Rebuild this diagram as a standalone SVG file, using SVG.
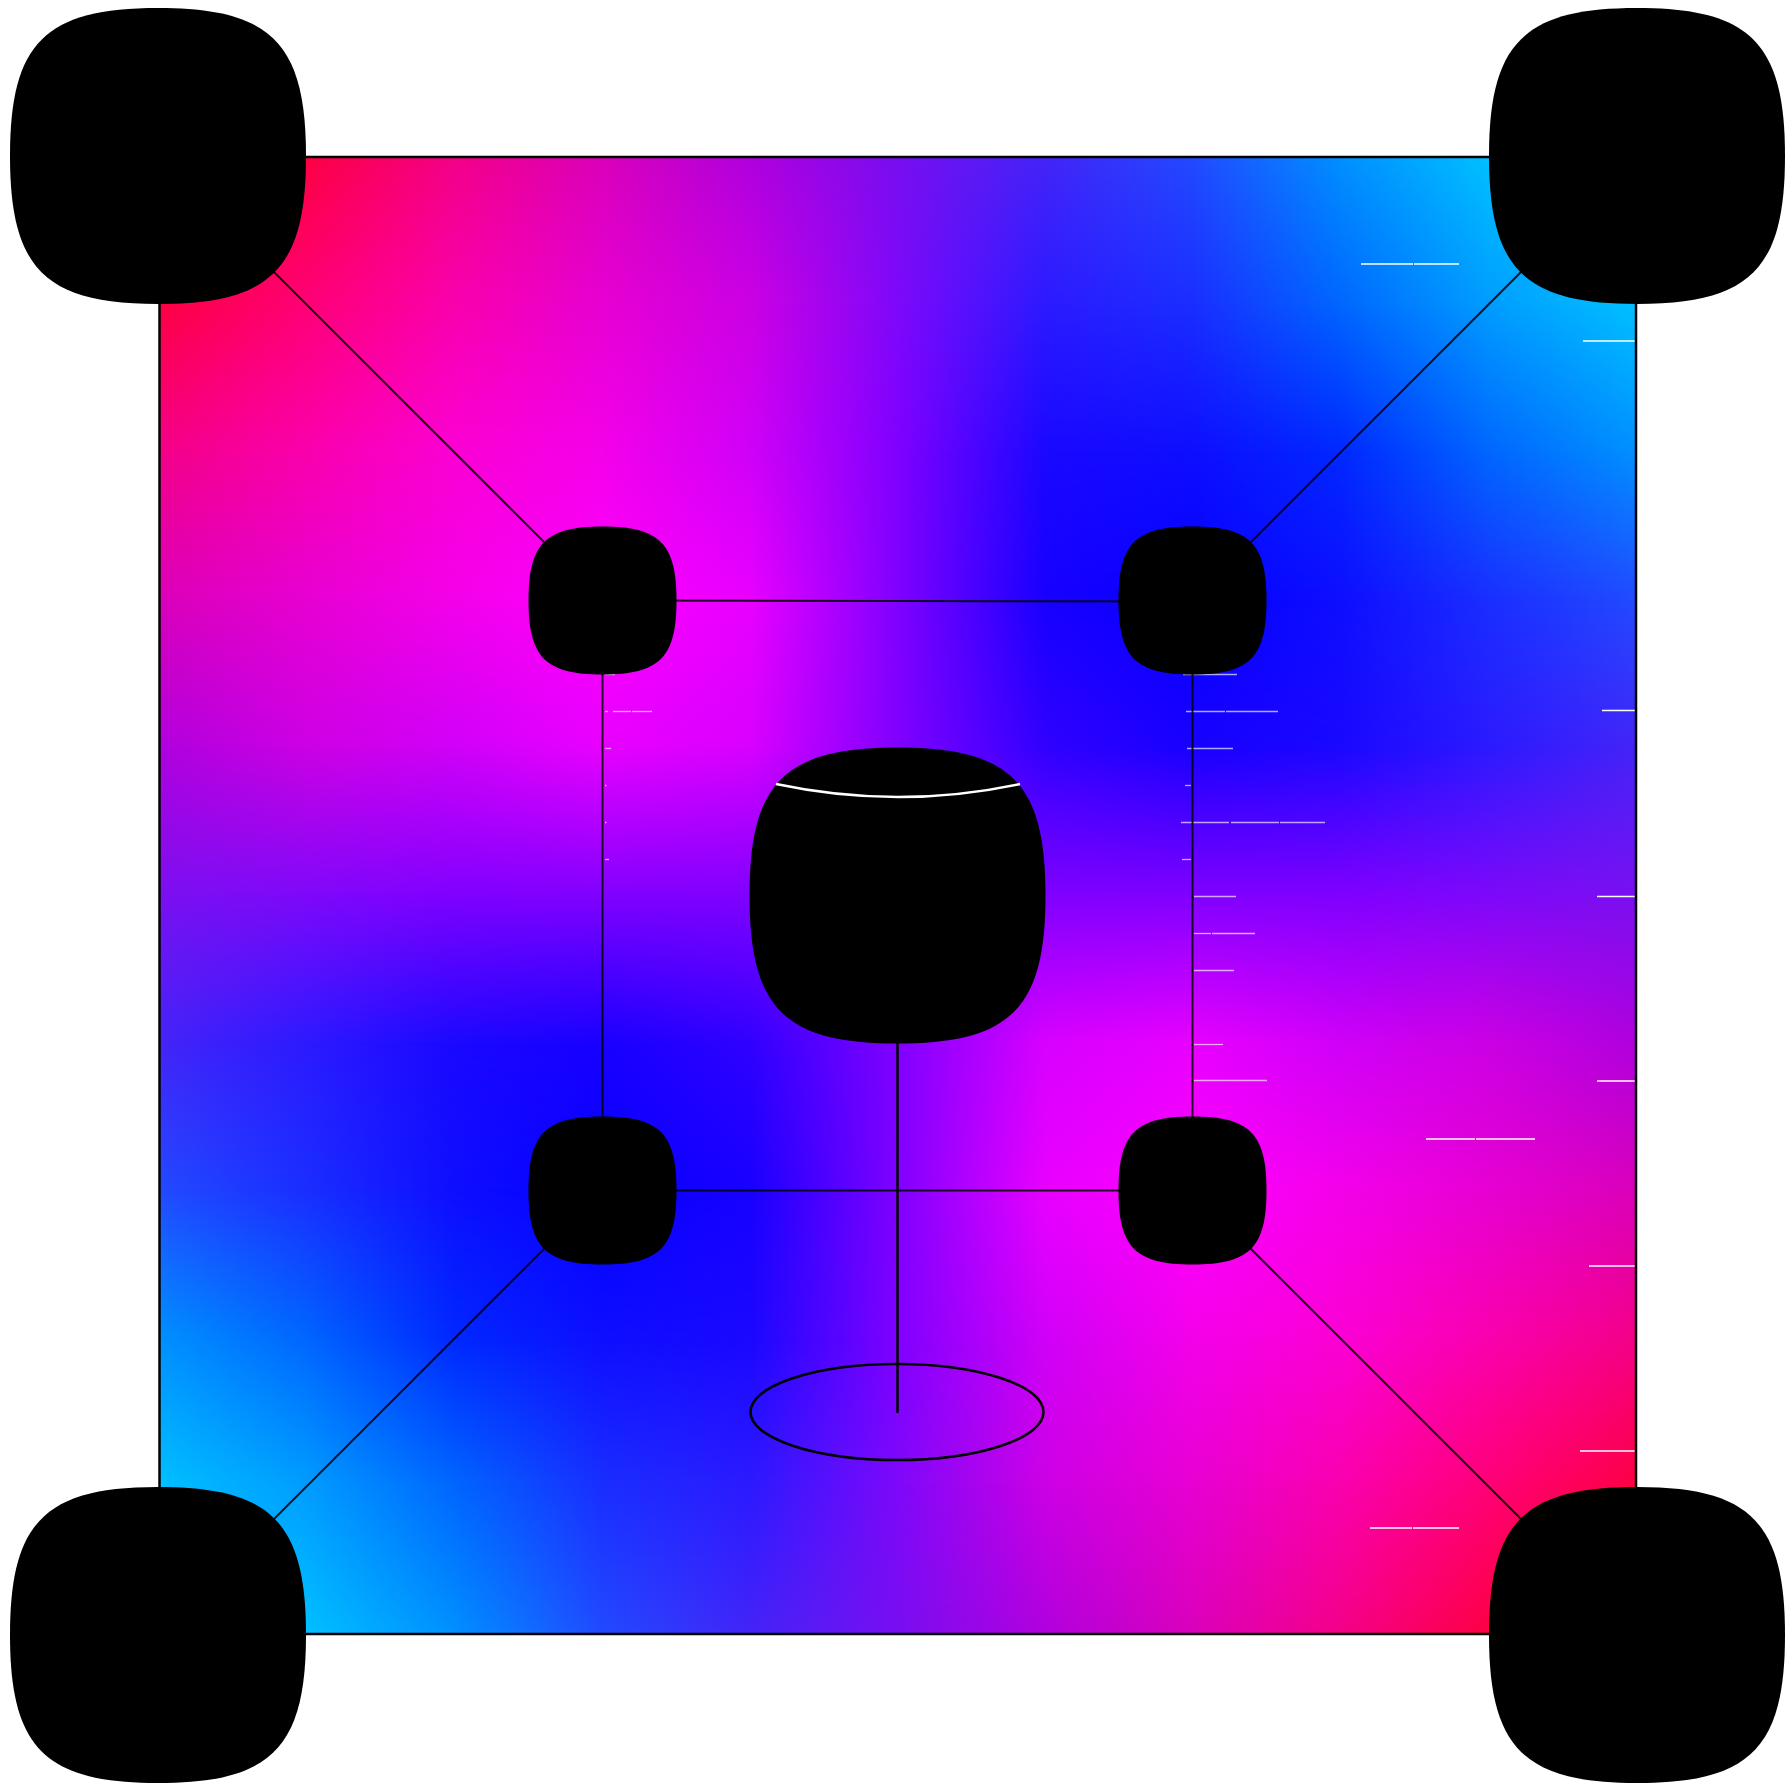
<svg xmlns="http://www.w3.org/2000/svg" xmlns:xlink="http://www.w3.org/1999/xlink" width="1785" height="1783" viewBox="0 0 1785 1783">
<style>
.node{fill:#000}
.conn{stroke:#000;stroke-opacity:0.85;stroke-width:2;fill:none}
.tick{stroke:#fff;stroke-width:1.4}
.tin{stroke:#fff;stroke-opacity:0.65;stroke-width:1.3}
</style>
<defs>
<path id="big" d="M -148 0 C -148 -113 -113 -148 0 -148 C 113 -148 148 -113 148 0 C 148 113 113 148 0 148 C -113 148 -148 113 -148 0 Z"/>
<path id="small" d="M -74 0 C -74 -57 -57 -74 0 -74 C 57 -74 74 -57 74 0 C 74 57 57 74 0 74 C -57 74 -74 57 -74 0 Z"/>
<linearGradient id="vramp" x1="0" y1="0" x2="0" y2="1"><stop offset="0" stop-color="#fff" stop-opacity="0"/><stop offset="1" stop-color="#fff" stop-opacity="1"/></linearGradient>
<mask id="fade" maskContentUnits="objectBoundingBox" style="mask-type:alpha"><rect width="1" height="1" fill="url(#vramp)"/></mask>
<linearGradient id="r0" gradientUnits="userSpaceOnUse" x1="159.5" y1="0" x2="1635.5" y2="0"><stop offset="0" stop-color="#ff0033"/><stop offset=".1" stop-color="#fe0044"/><stop offset=".2" stop-color="#f40088"/><stop offset=".3" stop-color="#da00ba"/><stop offset=".4" stop-color="#b000de"/><stop offset=".5" stop-color="#780ef0"/><stop offset=".6" stop-color="#4424f8"/><stop offset=".7" stop-color="#224aff"/><stop offset=".8" stop-color="#0090ff"/><stop offset=".9" stop-color="#00c0ff"/><stop offset="1" stop-color="#00ccff"/></linearGradient>
<linearGradient id="r1" gradientUnits="userSpaceOnUse" x1="159.5" y1="0" x2="1635.5" y2="0"><stop offset="0" stop-color="#fe0044"/><stop offset=".1" stop-color="#ff0077"/><stop offset=".2" stop-color="#fa00ae"/><stop offset=".3" stop-color="#e700d2"/><stop offset=".4" stop-color="#cc00e4"/><stop offset=".5" stop-color="#7e08fa"/><stop offset=".6" stop-color="#2c1aff"/><stop offset=".7" stop-color="#1a2eff"/><stop offset=".8" stop-color="#0066ff"/><stop offset=".9" stop-color="#009cff"/><stop offset="1" stop-color="#00c0ff"/></linearGradient>
<linearGradient id="r2" gradientUnits="userSpaceOnUse" x1="159.5" y1="0" x2="1635.5" y2="0"><stop offset="0" stop-color="#f40088"/><stop offset=".1" stop-color="#fa00ae"/><stop offset=".2" stop-color="#fb00d4"/><stop offset=".3" stop-color="#f400ea"/><stop offset=".4" stop-color="#d000f8"/><stop offset=".5" stop-color="#8000ff"/><stop offset=".6" stop-color="#1a08ff"/><stop offset=".7" stop-color="#0e0eff"/><stop offset=".8" stop-color="#0028ff"/><stop offset=".9" stop-color="#0066ff"/><stop offset="1" stop-color="#0090ff"/></linearGradient>
<linearGradient id="r3" gradientUnits="userSpaceOnUse" x1="159.5" y1="0" x2="1635.5" y2="0"><stop offset="0" stop-color="#da00ba"/><stop offset=".1" stop-color="#e700d2"/><stop offset=".2" stop-color="#f400ea"/><stop offset=".3" stop-color="#ff00ff"/><stop offset=".4" stop-color="#e800ff"/><stop offset=".5" stop-color="#8000ff"/><stop offset=".6" stop-color="#1800ff"/><stop offset=".7" stop-color="#0400ff"/><stop offset=".8" stop-color="#0e0eff"/><stop offset=".9" stop-color="#1a2eff"/><stop offset="1" stop-color="#224aff"/></linearGradient>
<linearGradient id="r4" gradientUnits="userSpaceOnUse" x1="159.5" y1="0" x2="1635.5" y2="0"><stop offset="0" stop-color="#b000de"/><stop offset=".1" stop-color="#cc00e4"/><stop offset=".2" stop-color="#d000f8"/><stop offset=".3" stop-color="#e800ff"/><stop offset=".4" stop-color="#d800ff"/><stop offset=".5" stop-color="#8000ff"/><stop offset=".6" stop-color="#3000ff"/><stop offset=".7" stop-color="#1800ff"/><stop offset=".8" stop-color="#1a08ff"/><stop offset=".9" stop-color="#2c1aff"/><stop offset="1" stop-color="#4424f8"/></linearGradient>
<linearGradient id="r5" gradientUnits="userSpaceOnUse" x1="159.5" y1="0" x2="1635.5" y2="0"><stop offset="0" stop-color="#7a10f0"/><stop offset=".1" stop-color="#7e08fa"/><stop offset=".2" stop-color="#8000ff"/><stop offset=".8" stop-color="#8000ff"/><stop offset=".9" stop-color="#7e08fa"/><stop offset="1" stop-color="#7a10f0"/></linearGradient>
<linearGradient id="r6" gradientUnits="userSpaceOnUse" x1="159.5" y1="0" x2="1635.5" y2="0"><stop offset="0" stop-color="#4424f8"/><stop offset=".1" stop-color="#2c1aff"/><stop offset=".2" stop-color="#1a08ff"/><stop offset=".3" stop-color="#1800ff"/><stop offset=".4" stop-color="#3000ff"/><stop offset=".5" stop-color="#8000ff"/><stop offset=".6" stop-color="#d800ff"/><stop offset=".7" stop-color="#e800ff"/><stop offset=".8" stop-color="#d000f8"/><stop offset=".9" stop-color="#cc00e4"/><stop offset="1" stop-color="#b000de"/></linearGradient>
<linearGradient id="r7" gradientUnits="userSpaceOnUse" x1="159.5" y1="0" x2="1635.5" y2="0"><stop offset="0" stop-color="#224aff"/><stop offset=".1" stop-color="#1a2eff"/><stop offset=".2" stop-color="#0e0eff"/><stop offset=".3" stop-color="#0400ff"/><stop offset=".4" stop-color="#1800ff"/><stop offset=".5" stop-color="#8000ff"/><stop offset=".6" stop-color="#e800ff"/><stop offset=".7" stop-color="#ff00ff"/><stop offset=".8" stop-color="#f400ea"/><stop offset=".9" stop-color="#e700d2"/><stop offset="1" stop-color="#da00ba"/></linearGradient>
<linearGradient id="r8" gradientUnits="userSpaceOnUse" x1="159.5" y1="0" x2="1635.5" y2="0"><stop offset="0" stop-color="#0090ff"/><stop offset=".1" stop-color="#0066ff"/><stop offset=".2" stop-color="#0028ff"/><stop offset=".3" stop-color="#0e0eff"/><stop offset=".4" stop-color="#1a08ff"/><stop offset=".5" stop-color="#8000ff"/><stop offset=".6" stop-color="#d000f8"/><stop offset=".7" stop-color="#f400ea"/><stop offset=".8" stop-color="#fb00d4"/><stop offset=".9" stop-color="#fa00ae"/><stop offset="1" stop-color="#f40088"/></linearGradient>
<linearGradient id="r9" gradientUnits="userSpaceOnUse" x1="159.5" y1="0" x2="1635.5" y2="0"><stop offset="0" stop-color="#00c0ff"/><stop offset=".1" stop-color="#009cff"/><stop offset=".2" stop-color="#0066ff"/><stop offset=".3" stop-color="#1a2eff"/><stop offset=".4" stop-color="#2c1aff"/><stop offset=".5" stop-color="#7e08fa"/><stop offset=".6" stop-color="#cc00e4"/><stop offset=".7" stop-color="#e700d2"/><stop offset=".8" stop-color="#fa00ae"/><stop offset=".9" stop-color="#ff0077"/><stop offset="1" stop-color="#fe0044"/></linearGradient>
<linearGradient id="r10" gradientUnits="userSpaceOnUse" x1="159.5" y1="0" x2="1635.5" y2="0"><stop offset="0" stop-color="#00ccff"/><stop offset=".1" stop-color="#00c0ff"/><stop offset=".2" stop-color="#0090ff"/><stop offset=".3" stop-color="#224aff"/><stop offset=".4" stop-color="#4424f8"/><stop offset=".5" stop-color="#780ef0"/><stop offset=".6" stop-color="#b000de"/><stop offset=".7" stop-color="#da00ba"/><stop offset=".8" stop-color="#f40088"/><stop offset=".9" stop-color="#fe0044"/><stop offset="1" stop-color="#ff0033"/></linearGradient>
</defs>
<rect width="1785" height="1783" fill="#fff"/>
<g id="background" shape-rendering="crispEdges">
<rect x="159" y="157" width="1477" height="1477" fill="#8000ff"/>
<rect x="159" y="157" width="1477" height="148" fill="url(#r0)"/><rect x="159" y="157" width="1477" height="148" fill="url(#r1)" mask="url(#fade)"/>
<rect x="159" y="305" width="1477" height="147" fill="url(#r1)"/><rect x="159" y="305" width="1477" height="147" fill="url(#r2)" mask="url(#fade)"/>
<rect x="159" y="452" width="1477" height="148" fill="url(#r2)"/><rect x="159" y="452" width="1477" height="148" fill="url(#r3)" mask="url(#fade)"/>
<rect x="159" y="600" width="1477" height="147" fill="url(#r3)"/><rect x="159" y="600" width="1477" height="147" fill="url(#r4)" mask="url(#fade)"/>
<rect x="159" y="747" width="1477" height="148" fill="url(#r4)"/><rect x="159" y="747" width="1477" height="148" fill="url(#r5)" mask="url(#fade)"/>
<rect x="159" y="895" width="1477" height="148" fill="url(#r5)"/><rect x="159" y="895" width="1477" height="148" fill="url(#r6)" mask="url(#fade)"/>
<rect x="159" y="1043" width="1477" height="147" fill="url(#r6)"/><rect x="159" y="1043" width="1477" height="147" fill="url(#r7)" mask="url(#fade)"/>
<rect x="159" y="1190" width="1477" height="148" fill="url(#r7)"/><rect x="159" y="1190" width="1477" height="148" fill="url(#r8)" mask="url(#fade)"/>
<rect x="159" y="1338" width="1477" height="147" fill="url(#r8)"/><rect x="159" y="1338" width="1477" height="147" fill="url(#r9)" mask="url(#fade)"/>
<rect x="159" y="1485" width="1477" height="149" fill="url(#r9)"/><rect x="159" y="1485" width="1477" height="149" fill="url(#r10)" mask="url(#fade)"/>
</g>
<g id="ticks">
<line class="tin" x1="605" y1="674.5" x2="615" y2="674.5"/>
<line class="tin" x1="605" y1="711.5" x2="608" y2="711.5"/><line class="tin" x1="613" y1="711.5" x2="631" y2="711.5"/><line class="tin" x1="632" y1="711.5" x2="652" y2="711.5"/>
<line class="tin" x1="605" y1="748.5" x2="611" y2="748.5"/>
<line class="tin" x1="605" y1="785.5" x2="606.5" y2="785.5"/>
<line class="tin" x1="605" y1="822.5" x2="606.5" y2="822.5"/>
<line class="tin" x1="605" y1="859.5" x2="609" y2="859.5"/>
<line class="tin" x1="1183" y1="674.5" x2="1237" y2="674.5"/>
<line class="tin" x1="1186" y1="711.5" x2="1225" y2="711.5"/><line class="tin" x1="1226" y1="711.5" x2="1278" y2="711.5"/>
<line class="tin" x1="1187" y1="748.5" x2="1233" y2="748.5"/>
<line class="tin" x1="1185" y1="785.5" x2="1191" y2="785.5"/>
<line class="tin" x1="1181" y1="822.5" x2="1229" y2="822.5"/><line class="tin" x1="1231" y1="822.5" x2="1279" y2="822.5"/><line class="tin" x1="1280" y1="822.5" x2="1325" y2="822.5"/>
<line class="tin" x1="1182" y1="859.5" x2="1191" y2="859.5"/>
<line class="tin" x1="1194" y1="896.5" x2="1236" y2="896.5"/>
<line class="tin" x1="1194" y1="933.5" x2="1211" y2="933.5"/><line class="tin" x1="1212" y1="933.5" x2="1255" y2="933.5"/>
<line class="tin" x1="1194" y1="970.5" x2="1234" y2="970.5"/>
<line class="tin" x1="1194" y1="1044.5" x2="1223" y2="1044.5"/>
<line class="tin" x1="1194" y1="1080.5" x2="1267" y2="1080.5"/>
<line class="tick" x1="1361" y1="264" x2="1413" y2="264"/><line class="tick" x1="1414" y1="264" x2="1459" y2="264"/>
<line class="tick" x1="1583" y1="341" x2="1635" y2="341"/>
<line class="tick" x1="1602" y1="710.5" x2="1635" y2="710.5"/>
<line class="tick" x1="1597" y1="896.5" x2="1635" y2="896.5"/>
<line class="tick" x1="1597" y1="1081" x2="1635" y2="1081"/>
<line class="tick" x1="1426" y1="1139" x2="1475" y2="1139"/><line class="tick" x1="1476" y1="1139" x2="1535" y2="1139"/>
<line class="tick" x1="1589" y1="1266" x2="1635" y2="1266"/>
<line class="tick" x1="1580" y1="1451" x2="1635" y2="1451"/>
<line class="tick" x1="1370" y1="1528" x2="1412" y2="1528"/><line class="tick" x1="1413" y1="1528" x2="1459" y2="1528"/>
</g>
<rect id="frame" x="159.5" y="157" width="1476.5" height="1477" fill="none" stroke="#000" stroke-width="2.5"/>
<g id="connectors">
<line class="conn" x1="158" y1="156" x2="602.5" y2="600.5"/>
<line class="conn" x1="1637" y1="156" x2="1192.5" y2="600.5"/>
<line class="conn" x1="158" y1="1635" x2="602.5" y2="1190.5"/>
<line class="conn" x1="1637" y1="1635" x2="1192.5" y2="1190.5"/>
<line class="conn" x1="602.5" y1="600.5" x2="1192.5" y2="601.5"/>
<line class="conn" x1="602.5" y1="600.5" x2="602.5" y2="1190.5"/>
<line class="conn" x1="1192.5" y1="600.5" x2="1192.5" y2="1190.5"/>
<line class="conn" x1="602.5" y1="1190.5" x2="1192.5" y2="1190.5"/>
<line x1="897.5" y1="895.5" x2="897.5" y2="1413" stroke="#000" stroke-width="2.5"/>
<ellipse cx="897" cy="1412" rx="146.5" ry="48" fill="none" stroke="#000" stroke-width="2.5"/>
</g>
<g id="node-tl"><use href="#big" xlink:href="#big" class="node" x="158" y="156"/></g>
<g id="node-tr"><use href="#big" xlink:href="#big" class="node" x="1637" y="156"/></g>
<g id="node-bl"><use href="#big" xlink:href="#big" class="node" x="158" y="1635"/></g>
<g id="node-br"><use href="#big" xlink:href="#big" class="node" x="1637" y="1635"/></g>
<g id="node-inner-tl"><use href="#small" xlink:href="#small" class="node" x="602.5" y="600.5"/></g>
<g id="node-inner-tr"><use href="#small" xlink:href="#small" class="node" x="1192.5" y="600.5"/></g>
<g id="node-inner-bl"><use href="#small" xlink:href="#small" class="node" x="602.5" y="1190.5"/></g>
<g id="node-inner-br"><use href="#small" xlink:href="#small" class="node" x="1192.5" y="1190.5"/></g>
<g id="node-center">
<use href="#big" xlink:href="#big" class="node" x="897.5" y="895.5"/>
<path d="M 776 784 Q 898 810 1020 784" fill="none" stroke="#fff" stroke-width="2.5"/>
</g>
</svg>
